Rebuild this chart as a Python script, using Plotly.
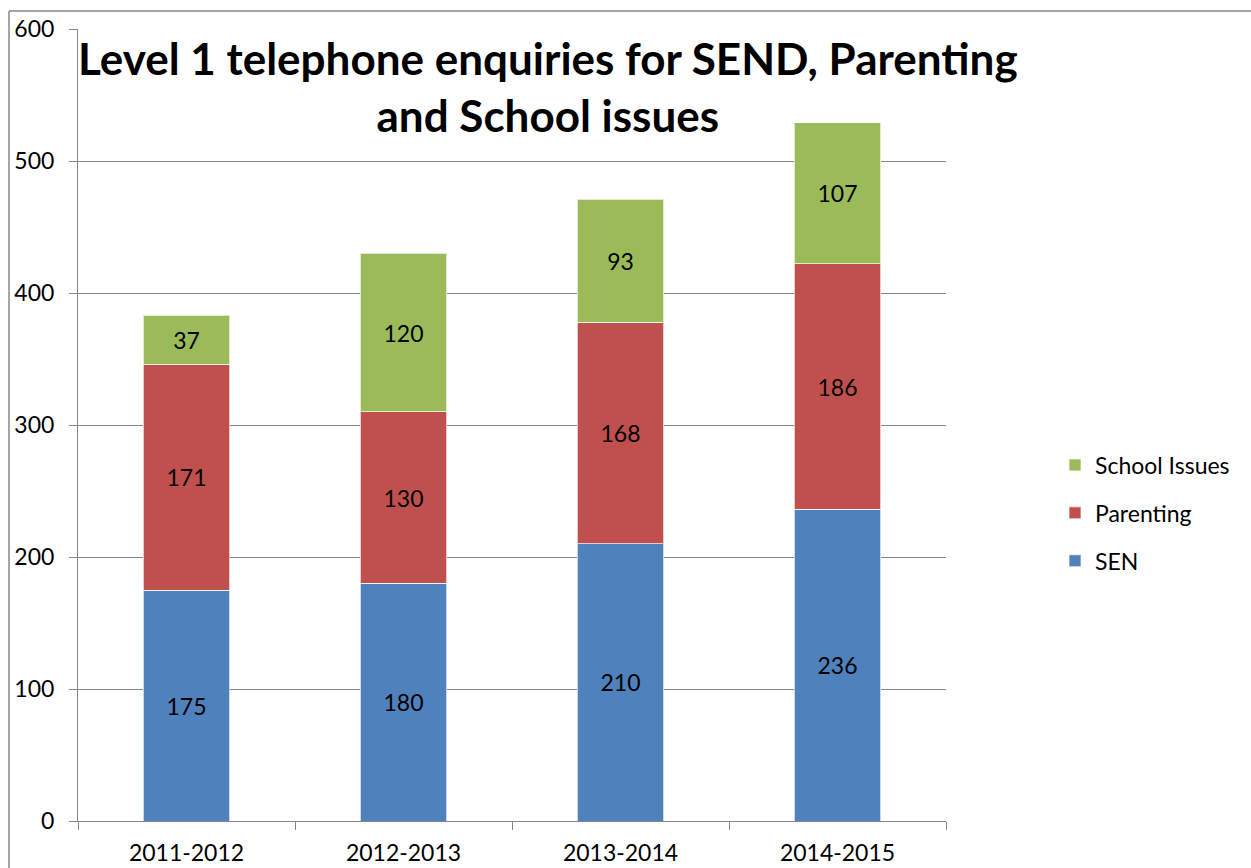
import plotly.graph_objects as go

years = ["2011-2012", "2012-2013", "2013-2014", "2014-2015"]
sen = [175, 180, 210, 236]
parenting = [171, 130, 168, 186]
school_issues = [37, 120, 93, 107]

y_ticks = [0, 100, 200, 300, 400, 500, 600]

FONT = "Lato, Calibri, Carlito, sans-serif"
GRID = "#878787"

# plot area in pixels
L, R, T, B = 78, 946, 29, 821
W, H = 1251, 868


def px_x(x):
    return (x - L) / (R - L)


def px_y(y):
    return (B - y) / (B - T)


fig = go.Figure()
series = [
    ("SEN", sen, "#4F81BD", 3),
    ("Parenting", parenting, "#C0504D", 2),
    ("School Issues", school_issues, "#9BBB59", 1),
]
for name, vals, color, rank in series:
    fig.add_trace(go.Bar(
        x=years, y=vals, name=name, legendgroup=name, legendrank=rank,
        marker=dict(color=color, line=dict(color="rgba(255,255,255,0.7)", width=1)),
        text=[str(v) for v in vals], textposition="inside",
        insidetextanchor="middle", textangle=0,
        textfont=dict(family=FONT, size=23, color="black"),
        width=0.4,
    ))

fig.update_layout(
    width=W, height=H,
    barmode="stack",
    plot_bgcolor="white", paper_bgcolor="white",
    margin=dict(l=L, r=W - R, t=T, b=H - B, pad=0, autoexpand=False),
    font=dict(family=FONT, size=23, color="black"),
    showlegend=True,
    legend=dict(
        x=px_x(1055), xanchor="left", y=px_y(513), yanchor="middle",
        traceorder="grouped", tracegroupgap=15,
        font=dict(family=FONT, size=23, color="black"),
        bgcolor="rgba(0,0,0,0)",
    ),
    xaxis=dict(
        type="category", range=[-0.5, 3.5], automargin=False,
        showline=True, linecolor=GRID, linewidth=1,
        ticks="outside", tickson="boundaries", ticklen=8, tickcolor=GRID,
        showgrid=False, tickfont=dict(size=23),
        ticklabelstandoff=11,
    ),
    yaxis=dict(
        range=[0, 600], tickvals=y_ticks, automargin=False,
        showline=True, linecolor=GRID, linewidth=1,
        ticks="outside", ticklen=8, tickcolor=GRID,
        showgrid=True, gridcolor=GRID, gridwidth=1,
        zeroline=False, tickfont=dict(size=23),
        ticklabelstandoff=10,
    ),
    uniformtext=dict(mode=False),
)

# chart title
fig.add_annotation(
    text="<b>Level 1 telephone enquiries for SEND, Parenting<br>and School issues</b>",
    xref="paper", yref="paper", x=px_x(548), y=px_y(86),
    xanchor="center", yanchor="middle", showarrow=False,
    font=dict(family=FONT, size=44, color="black"), align="center",
)

# outer chart frame
fig.add_shape(type="line", xref="paper", yref="paper",
              x0=px_x(9), x1=px_x(1260), y0=px_y(11), y1=px_y(11),
              line=dict(color=GRID, width=1.5))
fig.add_shape(type="line", xref="paper", yref="paper",
              x0=px_x(9), x1=px_x(9), y0=px_y(11), y1=px_y(880),
              line=dict(color=GRID, width=1.5))

fig.write_html("out.html")
